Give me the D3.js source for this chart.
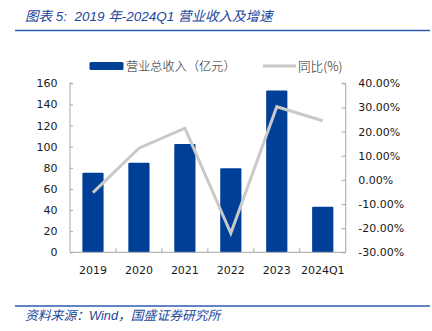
<!DOCTYPE html>
<html><head><meta charset="utf-8">
<script src="https://cdn.jsdelivr.net/npm/d3@7"></script>
<style>
html,body{margin:0;padding:0;background:#fff;}
svg{display:block;}
</style></head>
<body>
<svg id="c" width="432" height="331"></svg>
<script>
const categories = ["2019","2020","2021","2022","2023","2024Q1"];
const revenue = [75.4, 84.8, 102.6, 79.6, 153.1, 43.2];
const growth = [-5.3, 13.1, 21.4, -22.1, 30.3, 24.5];
const leftTicks = [0,20,40,60,80,100,120,140,160];
const rightTicks = [-30,-20,-10,0,10,20,30,40];
const titleText = "图表 5:  2019 年-2024Q1 营业收入及增速";
const sourceText = "资料来源：Wind，国盛证券研究所";
const legendBar = "营业总收入（亿元）";
const legendLine = "同比(%)";

const svg = d3.select("#c");
const L = 70, R = 345.7, T = 83.3, B = 252.3;
const blue = "#003f98", gray = "#c9c9c9", axisC = "#a6a6a6", textC = "#1a1a1a";
const titleC = "#23479a";

// title & rules
svg.append("text").attr("x",25).attr("y",21)
  .attr("font-family","'Liberation Sans','Noto Sans CJK SC',sans-serif")
  .attr("font-style","italic").attr("font-size",13.5).attr("fill",titleC)
  .attr("xml:space","preserve").style("white-space","pre").text(titleText);
svg.append("line").attr("x1",15).attr("x2",430).attr("y1",30.5).attr("y2",30.5)
  .attr("stroke","#2c5bb0").attr("stroke-width",1.6);
svg.append("line").attr("x1",15).attr("x2",430).attr("y1",306).attr("y2",306)
  .attr("stroke","#2c5bb0").attr("stroke-width",1.6);
svg.append("text").attr("x",25).attr("y",319.5)
  .attr("font-family","'Liberation Sans','Noto Sans CJK SC',sans-serif")
  .attr("font-style","italic").attr("font-size",12.8).attr("fill",titleC).text(sourceText);

const xb = d3.scaleBand().domain(categories).range([L,R]);
const yL = d3.scaleLinear().domain([0,160]).range([B,T]);
const yR = d3.scaleLinear().domain([-30,40]).range([B,T]);

const font = "'DejaVu Sans',Verdana,sans-serif";

// bars
svg.append("g").selectAll("rect").data(categories).join("rect")
  .attr("x",d=>xb(d)+xb.bandwidth()/2-10.6)
  .attr("width",21.2)
  .attr("y",(d,i)=>yL(revenue[i]))
  .attr("height",(d,i)=>B-yL(revenue[i]))
  .attr("rx",1).attr("fill",blue);

// line
const line = d3.line().x(d=>xb(d.c)+xb.bandwidth()/2).y(d=>yR(d.v));
svg.append("path").datum(categories.map((c,i)=>({c,v:growth[i]})))
  .attr("d",line).attr("fill","none").attr("stroke",gray).attr("stroke-width",3)
  .attr("stroke-linejoin","miter").attr("stroke-linecap","butt");

// left axis
const gL = svg.append("g").attr("transform",`translate(${L},0)`)
  .call(d3.axisRight(yL).tickValues(leftTicks).tickSize(3).tickFormat(d3.format("d")));
gL.select(".domain").attr("stroke",axisC).attr("d",`M3,${T}H0V${B}`);
gL.selectAll(".tick line").attr("stroke",axisC);
gL.selectAll(".tick text").attr("x",-12.5).attr("text-anchor","end")
  .attr("font-family",font).attr("font-size",11).attr("fill",textC);

// right axis
const gR = svg.append("g").attr("transform",`translate(${R},0)`)
  .call(d3.axisLeft(yR).tickValues(rightTicks).tickSize(4).tickFormat(d=>d.toFixed(2)+"%"));
gR.select(".domain").attr("stroke",axisC).attr("d",`M-4,${T}H0V${B}`);
gR.selectAll(".tick line").attr("stroke",axisC);
gR.selectAll(".tick text").attr("x",12.5).attr("text-anchor","start")
  .attr("font-family",font).attr("font-size",11).attr("fill",textC);

// bottom axis
const gB = svg.append("g").attr("transform",`translate(0,${B})`)
  .call(d3.axisBottom(xb).tickSize(0).tickPadding(14));
gB.select(".domain").attr("stroke",axisC).attr("d",`M${L},0H${R}`);
gB.selectAll(".tick text").attr("font-family",font).attr("font-size",11).attr("fill",textC);
gB.selectAll(".sep").data(categories.slice(1)).join("line").attr("class","sep")
  .attr("x1",d=>xb(d)).attr("x2",d=>xb(d)).attr("y1",0).attr("y2",-4).attr("stroke",axisC);

// legend
const lg = svg.append("g");
lg.append("rect").attr("x",89.5).attr("y",62).attr("width",34).attr("height",8).attr("rx",1.5).attr("fill",blue);
lg.append("text").attr("x",126).attr("y",70.5).attr("font-family","'Noto Sans CJK SC',sans-serif")
  .attr("font-size",12.2).attr("font-weight",300).attr("fill",textC).text(legendBar);
lg.append("line").attr("x1",263).attr("x2",296).attr("y1",66).attr("y2",66).attr("stroke",gray).attr("stroke-width",3);
lg.append("text").attr("x",298).attr("y",70.5).attr("font-family","'Noto Sans CJK SC',sans-serif")
  .attr("font-size",12.6).attr("font-weight",300).attr("fill",textC).text(legendLine);
</script>
</body></html>
